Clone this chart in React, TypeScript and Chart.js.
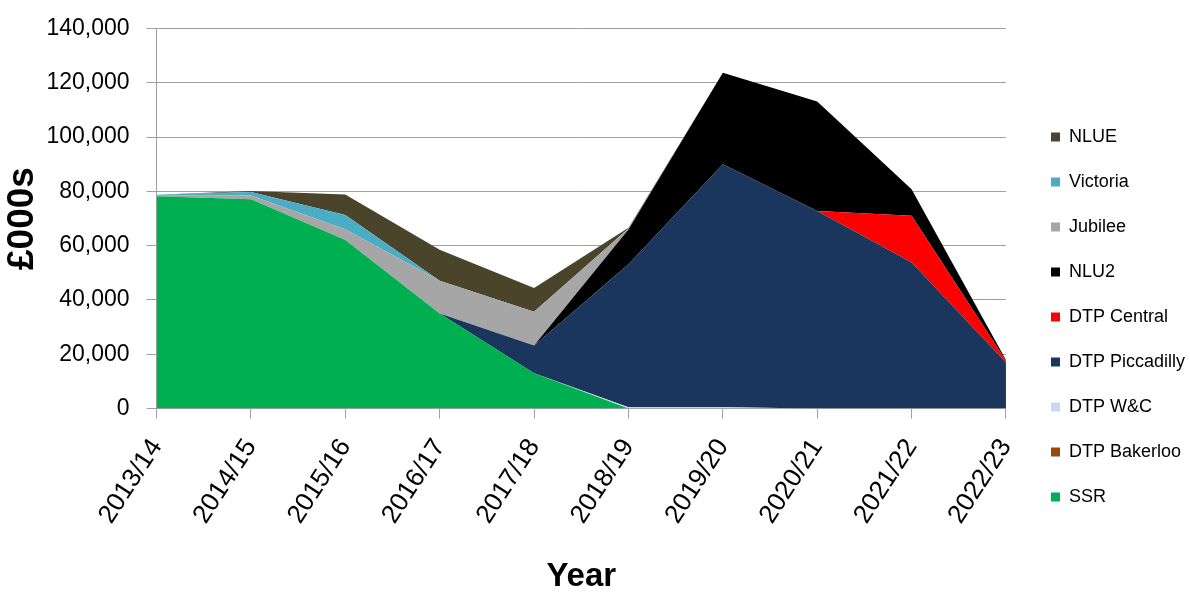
import React, { useEffect, useRef } from "react";
import { Chart, registerables } from "chart.js";

Chart.register(...registerables);

const years = ["2013/14", "2014/15", "2015/16", "2016/17", "2017/18", "2018/19", "2019/20", "2020/21", "2021/22", "2022/23"];

// values in £000s, stacked bottom to top
const ssr = [78200, 77100, 62100, 35000, 13000, 0, 0, 0, 0, 0];
const dtpBakerloo = [0, 0, 0, 0, 0, 0, 0, 0, 0, 0];
const dtpWC = [0, 0, 0, 0, 0, 500, 500, 0, 0, 0];
const dtpPiccadilly = [0, 0, 0, 0, 10200, 52700, 89500, 72800, 53800, 17000];
const dtpCentral = [0, 0, 0, 0, 0, 0, 0, 0, 17200, 600];
const nlu2 = [0, 0, 0, 0, 0, 12800, 33700, 40300, 9800, 300];
const jubilee = [200, 1400, 4000, 12100, 12500, 300, 0, 0, 0, 0];
const victoria = [400, 1300, 5200, 0, 0, 0, 0, 0, 0, 0];
const nlue = [0, 300, 7600, 11400, 8700, 300, 0, 0, 0, 0];

const yTicks = [0, 20000, 40000, 60000, 80000, 100000, 120000, 140000];

const seriesNames = ["SSR", "DTP Bakerloo", "DTP W&C", "DTP Piccadilly", "DTP Central", "NLU2", "Jubilee", "Victoria", "NLUE"];
const seriesData = [ssr, dtpBakerloo, dtpWC, dtpPiccadilly, dtpCentral, nlu2, jubilee, victoria, nlue];
const seriesColors = ["#00B050", "#984807", "#C6D9F1", "#1A365C", "#FF0000", "#000000", "#A6A6A6", "#4BACC6", "#4A452A"];

export default function App() {
  const ref = useRef<HTMLCanvasElement | null>(null);

  useEffect(() => {
    if (!ref.current) return;
    Chart.defaults.font.family = "'Liberation Sans', Arial, sans-serif";
    Chart.defaults.color = "#000";
    const chart = new Chart(ref.current, {
      type: "line",
      data: {
        labels: years,
        datasets: seriesNames.map((name, i) => ({
          label: name,
          data: seriesData[i],
          backgroundColor: seriesColors[i],
          borderColor: seriesColors[i],
          borderWidth: 0,
          pointRadius: 0,
          tension: 0,
          fill: i === 0 ? "origin" : "-1",
        })),
      },
      options: {
        responsive: false,
        animation: false,
        layout: { padding: { top: 8, right: -5, bottom: 0, left: 0 } },
        plugins: {
          tooltip: { enabled: false },
          legend: {
            position: "right",
            reverse: true,
            title: { display: true, text: " ", font: { size: 10 }, padding: { top: 0, bottom: 17 } },
            labels: {
              boxWidth: 9,
              boxHeight: 9,
              padding: 27,
              color: "#000",
              font: { size: 18 },
            },
          },
        },
        scales: {
          x: {
            offset: false,
            grid: { display: true, drawOnChartArea: false, drawTicks: true, tickLength: 10, color: "#A0A0A0" },
            border: { display: true, color: "#A0A0A0" },
            ticks: { autoSkip: false, maxRotation: 57, minRotation: 57, padding: 15, font: { size: 26 }, color: "#000" },
            title: { display: true, text: "Year", font: { size: 33, weight: "bold" }, padding: { top: 13, bottom: 0 }, color: "#000" },
          },
          y: {
            stacked: true,
            min: 0,
            max: 140000,
            afterBuildTicks: (s: any) => { s.ticks = yTicks.map((v) => ({ value: v })); },
            grid: { color: "#A0A0A0", tickLength: 10 },
            border: { display: true, color: "#A0A0A0" },
            ticks: {
              padding: 17,
              font: { size: 23, lineHeight: 1 },
              color: "#000",
              callback: (v: any) => Number(v).toLocaleString("en-US"),
            },
            title: { display: true, text: "£000s", font: { size: 37, weight: "bold" }, padding: { top: 1, bottom: -16 }, color: "#000" },
          },
          pad: {
            type: "linear",
            position: "right",
            display: true,
            grid: { display: false },
            ticks: { display: false },
            border: { display: false },
            afterFit: (s: any) => { s.width = 18; },
          },
        },
      },
    } as any);
    return () => chart.destroy();
  }, []);

  return (
    <div style={{ position: "fixed", left: 0, top: 0, width: 1190, height: 597, background: "#fff" }}>
      <canvas ref={ref} width={1190} height={597} style={{ display: "block" }} />
    </div>
  );
}
